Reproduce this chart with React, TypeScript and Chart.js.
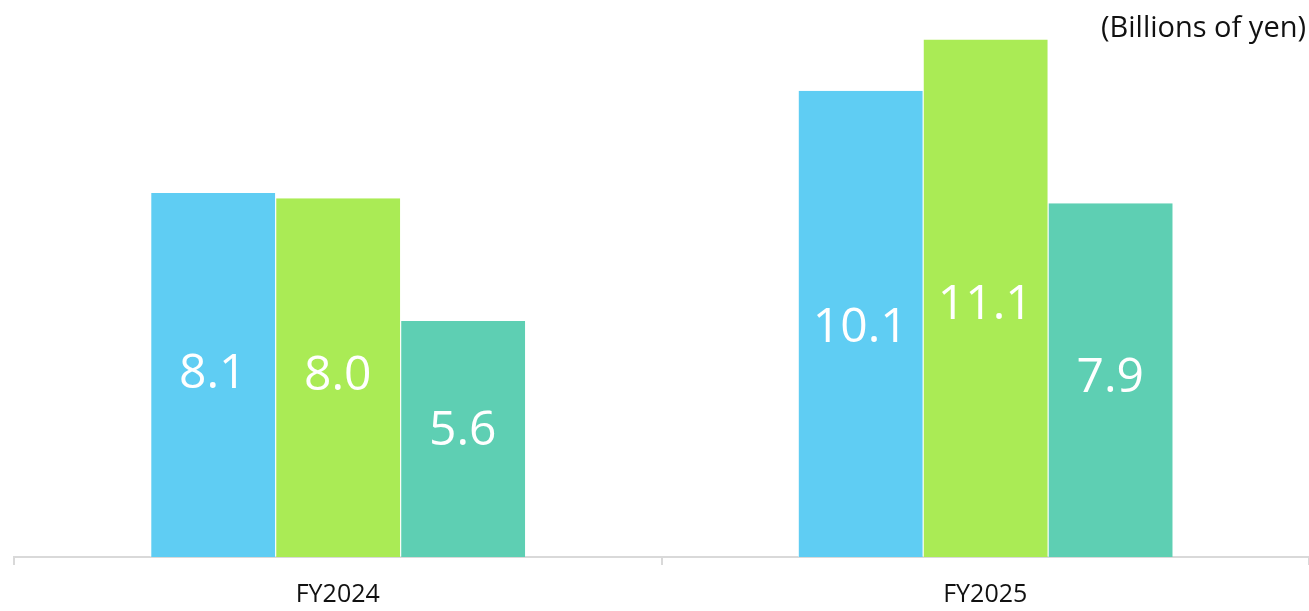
import React, { useEffect, useRef } from "react";
import { Chart, registerables } from "chart.js";

Chart.register(...registerables);

const categories = ["FY2024", "FY2025"];
const seriesA = [8.1, 10.1];
const seriesB = [8.0, 11.1];
const seriesC = [5.6, 7.9];
const seriesColors = ["#5fcdf3", "#aaeb55", "#5ecfb3"];
const unitLabel = "(Billions of yen)";
const FONT = "'Open Sans', 'Noto Sans', sans-serif";

export default function App() {
  const ref = useRef<HTMLCanvasElement | null>(null);

  useEffect(() => {
    if (!ref.current) return;
    const valueLabels = {
      id: "valueLabels",
      afterDatasetsDraw(chart: any) {
        const ctx = chart.ctx;
        const labelScale = chart.scales.yLabel;
        ctx.save();
        ctx.fillStyle = "#ffffff";
        ctx.font = `400 48px ${FONT}`;
        ctx.textAlign = "center";
        ctx.textBaseline = "alphabetic";
        chart.data.datasets.forEach((ds: any, i: number) => {
          const meta = chart.getDatasetMeta(i);
          meta.data.forEach((bar: any, j: number) => {
            const v = ds.data[j];
            const yMid = labelScale.getPixelForValue(v / 2);
            ctx.fillText(v.toFixed(1), bar.x, yMid + 17);
          });
        });
        ctx.restore();
      },
    };
    const unitPlugin = {
      id: "unitPlugin",
      afterDraw(chart: any) {
        const ctx = chart.ctx;
        ctx.save();
        ctx.fillStyle = "#111111";
        ctx.font = `400 29px ${FONT}`;
        ctx.textAlign = "right";
        ctx.textBaseline = "alphabetic";
        ctx.fillText(unitLabel, chart.width - 3, 37);
        ctx.restore();
      },
    };
    const chart = new Chart(ref.current, {
      type: "bar",
      data: {
        labels: categories,
        datasets: [
          { data: seriesA, backgroundColor: seriesColors[0] },
          { data: seriesB, backgroundColor: seriesColors[1] },
          { data: seriesC, backgroundColor: seriesColors[2] },
        ].map((d) => ({
          ...d,
          borderColor: "rgba(255,255,255,0.6)",
          borderWidth: { left: 1, right: 0, top: 0, bottom: 0 },
          categoryPercentage: 0.579,
          barPercentage: 1,
        })),
      },
      options: {
        animation: false,
        responsive: true,
        maintainAspectRatio: false,
        layout: { padding: { left: 14, right: 0, top: 20, bottom: 0 } },
        plugins: {
          legend: { display: false },
          tooltip: { enabled: false },
        },
        scales: {
          x: {
            afterFit(scale: any) {
              scale.height = 54;
            },
            grid: {
              display: true,
              drawOnChartArea: false,
              drawTicks: true,
              tickLength: 8,
              color: "#d9d9d9",
              lineWidth: 2,
              offset: true,
            },
            border: { display: true, color: "#d9d9d9", width: 2 },
            ticks: {
              color: "#111111",
              font: { family: FONT, size: 25 },
              padding: 15,
            },
          },
          y: {
            display: false,
            min: 0.99,
            max: 11.48,
          },
          yLabel: {
            type: "linear",
            display: false,
            min: 0,
            max: 11.67,
          },
        },
      },
      plugins: [valueLabels, unitPlugin],
    });
    return () => chart.destroy();
  }, []);

  return (
    <div style={{ position: "absolute", left: 0, top: 0, width: 1309, height: 611 }}>
      <canvas ref={ref} />
    </div>
  );
}
